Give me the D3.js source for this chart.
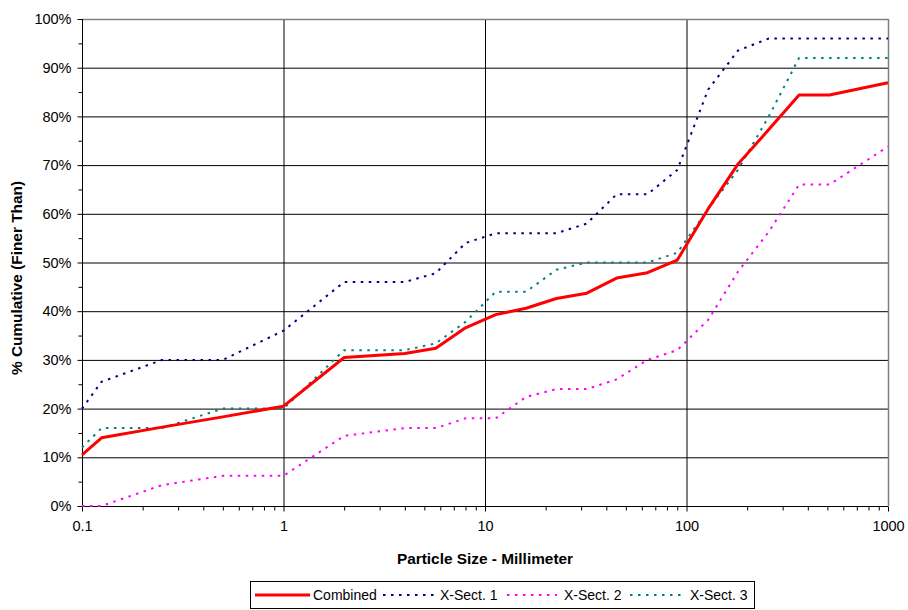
<!DOCTYPE html>
<html><head><meta charset="utf-8">
<script src="https://cdn.jsdelivr.net/npm/d3@7"></script>
<style>body{margin:0;background:#fff;font-family:Arial,"Liberation Sans",sans-serif;}</style>
</head><body><svg id="c" width="908" height="610"></svg>
<script>
const sizes    = [0.1, 0.125, 0.25, 0.5, 1, 2, 4, 5.7, 8, 11.3, 16, 22.6, 32, 45, 64, 90, 128, 180, 256, 362, 512, 1000];
const combined = [10.5, 14, 16.2, 18.3, 20.5, 30.5, 31.3, 32.4, 36.6, 39.3, 40.6, 42.6, 43.7, 46.8, 47.9, 50.5, 61, 70.2, 77.3, 84.4, 84.4, 86.9];
const xsect1   = [20, 25.5, 30, 30, 36, 46, 46, 47.8, 54, 56, 56, 56, 58, 64, 64, 69, 85.5, 93.5, 96, 96, 96, 96];
const xsect2   = [0, 0, 4.3, 6.2, 6.2, 14.4, 16, 16, 18, 18, 22.4, 24, 24, 26, 30, 32, 38.2, 48.1, 56.3, 66, 66, 73.8];
const xsect3   = [12, 16, 16, 20, 20, 32, 32, 33.4, 37.8, 44, 44, 48.5, 50, 50, 50, 52, 61, 69, 80, 92, 92, 92];
const seriesNames = ["Combined", "X-Sect. 1", "X-Sect. 2", "X-Sect. 3"];
const xTickLabels = ["0.1", "1", "10", "100", "1000"];
const yTickValues = [0,10,20,30,40,50,60,70,80,90,100];

const svg = d3.select("#c");
const L=82, T=19, R=888, B=506;
const x = d3.scaleLog().domain([0.1,1000]).range([L,R]);
const y = d3.scaleLinear().domain([0,100]).range([B,T]);
const FF = "Arial, 'Liberation Sans', sans-serif";

svg.append("g").selectAll("line").data(yTickValues.filter(v=>v>0&&v<100)).join("line")
  .attr("x1",L).attr("x2",R).attr("y1",d=>y(d)+0.5).attr("y2",d=>y(d)+0.5)
  .attr("stroke","#000").attr("stroke-width",1);
svg.append("g").selectAll("line").data([1,10,100]).join("line")
  .attr("y1",T).attr("y2",B).attr("x1",d=>x(d)+0.5).attr("x2",d=>x(d)+0.5)
  .attr("stroke","#000").attr("stroke-width",1);
svg.append("line").attr("x1",L).attr("x2",R+0.5).attr("y1",T+0.5).attr("y2",T+0.5).attr("stroke","#808080").attr("stroke-width",1.5);
svg.append("line").attr("x1",R+0.5).attr("x2",R+0.5).attr("y1",T).attr("y2",B).attr("stroke","#808080").attr("stroke-width",1.5);

const yAxis = d3.axisLeft(y).tickValues(yTickValues).tickFormat(d=>d+"%").tickSize(5).tickPadding(6);
const gy = svg.append("g").attr("transform",`translate(${L+0.5},0)`).call(yAxis);
gy.selectAll(".tick line").attr("stroke","#000");
gy.select(".domain").attr("stroke","#000").attr("d",`M0,${T}V${B}`);
gy.selectAll("text").attr("font-size","14.5px").attr("font-family",FF).attr("fill","#000");
const gym = svg.append("g").attr("transform",`translate(${L+0.5},0)`)
  .call(d3.axisLeft(y).tickValues(d3.range(5,100,10)).tickSize(4).tickFormat(""));
gym.select(".domain").remove(); gym.selectAll("line").attr("stroke","#000");

const xAxis = d3.axisBottom(x).tickValues([0.1,1,10,100,1000]).tickFormat((d,i)=>xTickLabels[i]).tickSize(5).tickPadding(9);
const gx = svg.append("g").attr("transform",`translate(0,${B+0.5})`).call(xAxis);
gx.select(".domain").attr("stroke","#000").attr("d",`M${L},0H${R}`);
gx.selectAll(".tick line").attr("stroke","#000");
gx.selectAll("text").attr("font-size","14.5px").attr("font-family",FF).attr("fill","#000");
const minorX = [];
[0.1,1,10,100].forEach(d=>{for(let k=2;k<=9;k++) minorX.push(d*k);});
const gxm = svg.append("g").attr("transform",`translate(0,${B+0.5})`).call(d3.axisBottom(x).tickValues(minorX).tickSize(4).tickFormat(""));
gxm.select(".domain").remove(); gxm.selectAll("line").attr("stroke","#000");

svg.append("text").attr("x",485).attr("y",564).attr("text-anchor","middle").attr("font-family",FF)
  .attr("font-size","15.4px").attr("font-weight","bold").text("Particle Size - Millimeter");
svg.append("text").attr("transform","translate(22,278) rotate(-90)").attr("text-anchor","middle").attr("font-family",FF)
  .attr("font-size","15.4px").attr("font-weight","bold").text("% Cumulative (Finer Than)");

const styles = [
  {data:combined, color:"#FF0000", width:3, dash:null},
  {data:xsect1, color:"#000080", width:2, dash:"2.5,5.5"},
  {data:xsect2, color:"#FF00FF", width:2, dash:"2.5,5.5"},
  {data:xsect3, color:"#008080", width:2, dash:"2.5,5.5"}
];
const line = d3.line().x(d=>x(d[0])).y(d=>y(d[1]));
[1,2,3,0].forEach(i=>{
  const s=styles[i];
  svg.append("path").datum(sizes.map((v,j)=>[v,s.data[j]]))
    .attr("d",line).attr("fill","none").attr("stroke",s.color).attr("stroke-width",s.width)
    .attr("stroke-dasharray",s.dash).attr("stroke-linejoin","round");
});

const lg = svg.append("g");
lg.append("rect").attr("x",250.5).attr("y",581.5).attr("width",504).attr("height",27).attr("fill","#fff").attr("stroke","#000");
const lx=[[255,310,313],[383,435,440],[507,557,564],[630,684,690]];
seriesNames.forEach((n,i)=>{
  const s=styles[i];
  lg.append("line").attr("x1",lx[i][0]).attr("x2",lx[i][1]).attr("y1",595).attr("y2",595)
    .attr("stroke",s.color).attr("stroke-width",s.width).attr("stroke-dasharray",s.dash);
  lg.append("text").attr("x",lx[i][2]).attr("y",600).attr("font-family",FF).attr("font-size","14px").text(n);
});
</script></body></html>
